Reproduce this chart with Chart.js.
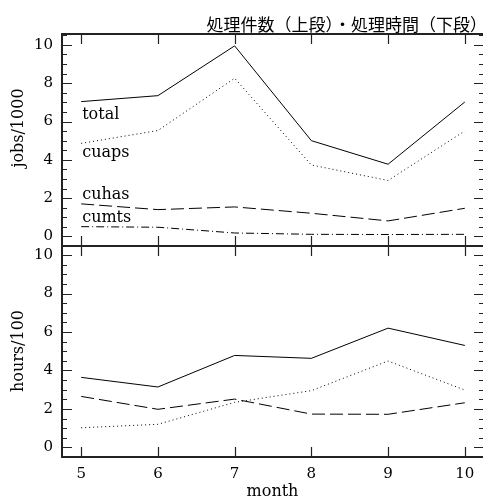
<!DOCTYPE html>
<html>
<head>
<meta charset="utf-8">
<script src="https://cdn.jsdelivr.net/npm/chart.js@4.4.1/dist/chart.umd.min.js"></script>
<style>
  html, body { margin: 0; padding: 0; background: #fff; overflow: hidden; width: 483px; height: 497px; }
  #wrap { position: relative; width: 483px; height: 497px; overflow: hidden; }
  #c1 { position: absolute; left: 0; top: 0; }
  #c2 { position: absolute; left: 0; top: 246px; }
</style>
</head>
<body>
<div id="wrap">
  <canvas id="c1" width="490" height="247"></canvas>
  <canvas id="c2" width="490" height="251"></canvas>
</div>
<script>
// ---- data ----
const months = [5, 6, 7, 8, 9, 10];
const jobsTotal = [7.04, 7.35, 9.95, 5.00, 3.77, 7.02];
const jobsCuaps = [4.86, 5.53, 8.26, 3.73, 2.92, 5.51];
const jobsCuhas = [1.70, 1.40, 1.54, 1.21, 0.81, 1.47];
const jobsCumts = [0.51, 0.48, 0.18, 0.11, 0.10, 0.11];
const hoursTotal = [3.64, 3.14, 4.78, 4.63, 6.20, 5.30];
const hoursCuaps = [1.02, 1.20, 2.34, 2.95, 4.49, 2.98];
const hoursCuhas = [2.65, 1.98, 2.51, 1.73, 1.72, 2.32];
const yTickValues = [0, 2, 4, 6, 8, 10];
const seriesNames = ['total', 'cuaps', 'cuhas', 'cumts'];
const titleText = '処理件数（上段）・処理時間（下段）';
const topAxisTitle = 'jobs/1000';
const bottomAxisTitle = 'hours/100';
const xAxisTitle = 'month';

// ---- helpers ----
const SERIF = '"DejaVu Serif", serif';
const INK = '#000';
const FRAME = '#222';
const styles = [
  { dash: [] },
  { dash: [1, 3] },
  { dash: [13, 5] },
  { dash: [8, 3, 1, 3] }
];
function pts(arr) { return months.map((m, i) => ({ x: m, y: arr[i] })); }
function ds(name, arr, k) {
  return {
    label: name, data: pts(arr), borderColor: INK, backgroundColor: INK,
    borderWidth: 1, borderDash: styles[k].dash, pointRadius: 0, tension: 0, fill: false
  };
}

const framePlugin = {
  id: 'frameTicks',
  afterDatasetsDraw(chart) {
    const { ctx, chartArea: a, scales } = chart;
    const xs = scales.x, ys = scales.y;
    ctx.save();
    ctx.strokeStyle = FRAME;
    ctx.lineWidth = 1.2;
    ctx.setLineDash([]);
    const yMin = ys.min, yMax = ys.max;
    for (let v = Math.ceil(yMin * 2) / 2; v <= yMax + 1e-9; v += 0.5) {
      const major = yTickValues.some(t => Math.abs(t - v) < 1e-9);
      const len = major ? 10 : 5;
      const py = Math.round(ys.getPixelForValue(v)) + 0.5;
      ctx.beginPath();
      ctx.moveTo(a.left, py); ctx.lineTo(a.left + len, py);
      ctx.moveTo(a.right, py); ctx.lineTo(a.right - len, py);
      ctx.stroke();
    }
    months.forEach(m => {
      const px = Math.round(xs.getPixelForValue(m)) + 0.5;
      ctx.beginPath();
      ctx.moveTo(px, a.top); ctx.lineTo(px, a.top + 10);
      ctx.moveTo(px, a.bottom); ctx.lineTo(px, a.bottom - 10);
      ctx.stroke();
    });
    ctx.lineWidth = 2;
    ctx.strokeRect(a.left, a.top, a.right - a.left, a.bottom - a.top);
    ctx.restore();

    const o = chart.options.plugins.frameTicks || {};
    ctx.save();
    ctx.fillStyle = INK;
    if (o.title) {
      ctx.font = '17px "Noto Sans CJK JP", sans-serif';
      ctx.textAlign = 'right';
      ctx.textBaseline = 'middle';
      ctx.fillText(o.title, 487, 25);
    }
    if (o.yTitle) {
      ctx.font = '16px ' + SERIF;
      ctx.textAlign = 'center';
      ctx.textBaseline = 'middle';
      ctx.translate(19, o.yTitleY);
      ctx.rotate(-Math.PI / 2);
      ctx.fillText(o.yTitle, 0, 0);
      ctx.setTransform(1, 0, 0, 1, 0, 0);
    }
    if (o.xTitle) {
      ctx.font = '16px ' + SERIF;
      ctx.textAlign = 'center';
      ctx.textBaseline = 'middle';
      ctx.fillText(o.xTitle, (a.left + 483) / 2, o.xTitleY);
    }
    if (o.seriesLabels) {
      ctx.font = '16px ' + SERIF;
      ctx.textAlign = 'left';
      ctx.textBaseline = 'middle';
      o.seriesLabels.forEach(l => {
        ctx.fillText(l.text, xs.getPixelForValue(months[0]) + 1, ys.getPixelForValue(l.y));
      });
    }
    ctx.restore();
  }
};

function yScale(min, max) {
  return {
    type: 'linear', min: min, max: max,
    afterBuildTicks(s) { s.ticks = yTickValues.map(v => ({ value: v })); },
    afterFit(s) { s.width = 62; s.paddingTop = 0; s.paddingBottom = 0; },
    grid: { display: false, drawTicks: false },
    border: { display: false },
    ticks: { color: INK, padding: 9, font: { family: SERIF, size: 15 } }
  };
}
function xScale(showLabels, h) {
  return {
    type: 'linear', min: 4.75, max: 10.25,
    afterBuildTicks(s) { s.ticks = months.map(v => ({ value: v })); },
    afterFit(s) { s.height = h; s.paddingLeft = 0; s.paddingRight = 0; },
    grid: { display: false, drawTicks: false },
    border: { display: false },
    ticks: { display: showLabels, color: INK, padding: 8, font: { family: SERIF, size: 15 } }
  };
}

Chart.defaults.animation = false;

new Chart(document.getElementById('c1'), {
  type: 'line',
  data: { datasets: [
    ds(seriesNames[0], jobsTotal, 0),
    ds(seriesNames[1], jobsCuaps, 1),
    ds(seriesNames[2], jobsCuhas, 2),
    ds(seriesNames[3], jobsCumts, 3)
  ] },
  options: {
    responsive: false, animation: false,
    layout: { autoPadding: false, padding: { top: 34, right: 6, left: 0, bottom: 1 } },
    scales: { x: xScale(false, 0), y: yScale(-0.5, 10.57) },
    plugins: {
      legend: { display: false }, tooltip: { enabled: false },
      frameTicks: {
        title: titleText, yTitle: topAxisTitle, yTitleY: 128,
        seriesLabels: [
          { text: seriesNames[0], y: 6.35 },
          { text: seriesNames[1], y: 4.35 },
          { text: seriesNames[2], y: 2.15 },
          { text: seriesNames[3], y: 0.95 }
        ]
      }
    }
  },
  plugins: [framePlugin]
});

new Chart(document.getElementById('c2'), {
  type: 'line',
  data: { datasets: [
    ds(seriesNames[0], hoursTotal, 0),
    ds(seriesNames[1], hoursCuaps, 1),
    ds(seriesNames[2], hoursCuhas, 2)
  ] },
  options: {
    responsive: false, animation: false,
    layout: { autoPadding: false, padding: { top: 0, right: 6, left: 0, bottom: 0 } },
    scales: { x: xScale(true, 40), y: yScale(-0.5, 10.47) },
    plugins: {
      legend: { display: false }, tooltip: { enabled: false },
      frameTicks: { yTitle: bottomAxisTitle, yTitleY: 105, xTitle: xAxisTitle, xTitleY: 246 }
    }
  },
  plugins: [framePlugin]
});
</script>
</body>
</html>
